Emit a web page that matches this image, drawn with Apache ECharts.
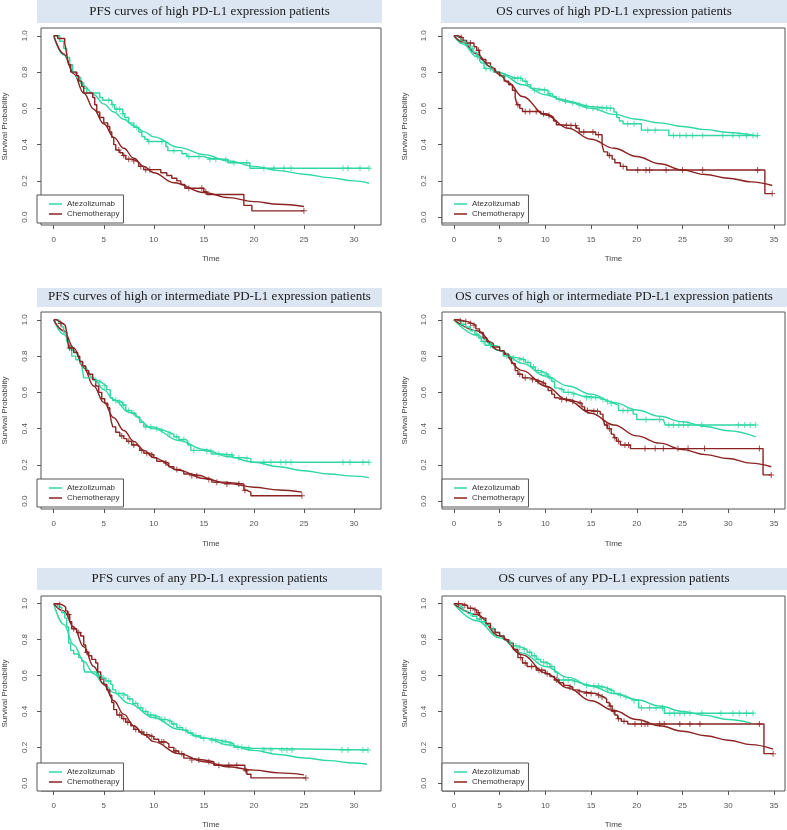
<!DOCTYPE html>
<html><head><meta charset="utf-8">
<script src="https://cdn.jsdelivr.net/npm/echarts@6/dist/echarts.min.js"></script>
<style>html,body{margin:0;padding:0;background:#fff}#c{width:787px;height:830px}</style>
</head><body><div id="c"></div>
<script>
// ---------- tick labels ----------
const xTicksPFS = [0, 5, 10, 15, 20, 25, 30];
const xTicksOS = [0, 5, 10, 15, 20, 25, 30, 35];
const yTicks = [0, 0.2, 0.4, 0.6, 0.8, 1.0];
const legendNames = ['Atezolizumab', 'Chemotherapy'];
const titles = [
  'PFS curves of high PD-L1 expression patients',
  'OS curves of high PD-L1 expression patients',
  'PFS curves of high or intermediate PD-L1 expression patients',
  'OS curves of high or intermediate PD-L1 expression patients',
  'PFS curves of any PD-L1 expression patients',
  'OS curves of any PD-L1 expression patients'
];

// ---------- Panel 1: PFS high ----------
const pfsHighAtezoKM = [[0,1],[0.6,0.97],[1.0,0.93],[1.3,0.88],[1.6,0.84],[1.9,0.80],[2.3,0.77],[2.7,0.74],[3.0,0.71],[3.3,0.685],[4.6,0.66],[4.9,0.645],[5.8,0.62],[6.1,0.595],[6.9,0.57],[7.1,0.55],[7.5,0.52],[8.0,0.495],[8.5,0.47],[8.8,0.445],[9.1,0.43],[9.4,0.417],[11.2,0.39],[11.4,0.367],[12.8,0.35],[13.3,0.335],[15.0,0.325],[15.5,0.318],[17.4,0.30],[19.6,0.27],[31.5,0.27]];
const pfsHighChemoKM = [[0,1],[0.4,0.985],[1.1,0.96],[1.2,0.93],[1.35,0.88],[1.5,0.84],[1.7,0.80],[2.3,0.78],[2.5,0.75],[2.8,0.72],[3.0,0.685],[3.9,0.66],[4.1,0.62],[4.3,0.58],[4.6,0.55],[5.0,0.52],[5.4,0.50],[5.6,0.47],[5.8,0.44],[6.0,0.40],[6.2,0.37],[6.6,0.355],[6.9,0.34],[7.2,0.32],[7.8,0.31],[8.3,0.30],[8.5,0.28],[9.0,0.262],[10.7,0.245],[11.3,0.23],[11.8,0.215],[12.3,0.20],[12.7,0.18],[13.1,0.16],[15.0,0.14],[15.3,0.125],[19.0,0.065],[19.8,0.035],[25.0,0.035]];
const pfsHighAtezoCens = [5.5,5.9,6.3,6.6,6.9,8.3,9.5,10.8,12.0,13.5,14.5,15.6,16.2,17.2,18.0,19.3,21.0,22.0,23.0,23.7,28.9,29.4,30.6,31.5];
const pfsHighChemoCens = [6.5,7.0,7.5,8.0,8.7,9.2,9.6,13.5,14.8,15.2,25.0];
const pfsHighAtezoFit = [[0,1],[1,0.895],[2,0.80],[3,0.725],[4,0.675],[5,0.625],[6,0.58],[7,0.54],[8,0.505],[9,0.472],[10,0.443],[12.5,0.385],[15,0.345],[17.5,0.31],[20,0.28],[22.5,0.257],[25,0.237],[27.5,0.218],[30,0.20],[31.5,0.187]];
const pfsHighChemoFit = [[0,1],[1,0.90],[2,0.79],[3,0.685],[4,0.595],[5,0.515],[6,0.44],[7,0.38],[8,0.325],[9,0.28],[10,0.245],[12,0.19],[15,0.136],[17.5,0.108],[20,0.086],[22.5,0.071],[25,0.059]];

// ---------- Panel 2: OS high ----------
const osHighAtezoKM = [[0,1],[0.3,0.99],[0.7,0.975],[1.0,0.965],[1.4,0.95],[1.8,0.93],[2.1,0.91],[2.5,0.885],[2.8,0.865],[3.0,0.85],[3.3,0.82],[4.3,0.80],[5.0,0.79],[5.5,0.78],[6.0,0.77],[6.5,0.765],[7.5,0.75],[8.0,0.73],[8.4,0.71],[8.7,0.70],[10.3,0.68],[10.8,0.665],[11.2,0.65],[11.8,0.64],[12.6,0.63],[13.4,0.62],[14.0,0.61],[14.8,0.60],[17.5,0.58],[17.8,0.55],[18.1,0.53],[18.5,0.515],[20.5,0.48],[23.5,0.45],[33.2,0.45]];
const osHighChemoKM = [[0,1],[0.5,0.99],[1.0,0.975],[1.4,0.96],[2.2,0.94],[2.5,0.92],[2.8,0.90],[3.0,0.87],[3.5,0.85],[4.0,0.82],[4.5,0.80],[5.0,0.78],[5.5,0.75],[6.0,0.73],[6.4,0.70],[6.7,0.66],[6.9,0.62],[7.2,0.60],[7.5,0.583],[9.5,0.57],[10.2,0.56],[10.6,0.55],[10.9,0.53],[11.2,0.51],[11.5,0.505],[13.4,0.49],[13.7,0.47],[15.5,0.455],[16.2,0.40],[16.4,0.36],[16.8,0.34],[17.3,0.32],[17.6,0.30],[18.2,0.28],[18.9,0.26],[34.0,0.13],[34.8,0.13]];
const osHighAtezoCens = [1.2,2.0,2.6,3.5,4.0,5.6,6.6,7.0,7.3,7.8,8.8,9.3,9.9,10.5,11.5,12.2,13.0,13.7,14.5,15.2,15.7,16.2,16.7,17.1,19.0,19.7,21.2,22.0,24.0,24.7,25.4,26.1,27.2,29.4,30.5,31.2,32.0,32.7,33.2];
const osHighChemoCens = [0.8,1.8,2.7,7.0,7.8,8.3,9.0,9.8,10.4,12.3,12.8,13.3,14.2,15.2,15.8,17.0,18.5,20.1,21.0,21.4,23.2,25.0,27.2,33.2,34.8];
const osHighAtezoFit = [[0,1],[1,0.955],[2.5,0.885],[4,0.83],[5,0.795],[7.5,0.73],[10,0.675],[12.5,0.635],[15,0.60],[17.5,0.567],[20,0.54],[22.5,0.52],[25,0.50],[27.5,0.483],[30,0.467],[33.2,0.447]];
const osHighChemoFit = [[0,1],[1,0.965],[2.5,0.90],[4,0.83],[5,0.785],[6,0.74],[7.5,0.665],[10,0.565],[12.5,0.49],[15,0.43],[17.5,0.38],[20,0.335],[22.5,0.295],[25,0.26],[27.5,0.235],[30,0.215],[32.5,0.195],[34.8,0.175]];

// ---------- Panel 3: PFS high or intermediate ----------
const pfsHiIntAtezoKM = [[0,1],[0.5,0.98],[0.8,0.96],[1.0,0.93],[1.3,0.88],[1.5,0.84],[1.8,0.80],[2.2,0.78],[2.6,0.76],[2.85,0.73],[3.0,0.68],[4.0,0.665],[4.5,0.655],[4.8,0.645],[5.0,0.635],[5.3,0.615],[5.65,0.57],[5.9,0.555],[6.4,0.545],[6.9,0.53],[7.2,0.50],[7.8,0.485],[8.2,0.465],[8.6,0.435],[9.0,0.41],[10.0,0.40],[10.5,0.39],[11.0,0.38],[11.5,0.37],[12.0,0.355],[12.5,0.34],[13.2,0.33],[13.4,0.31],[13.7,0.28],[15.2,0.275],[15.8,0.26],[16.8,0.255],[17.9,0.24],[19.0,0.235],[19.7,0.215],[31.5,0.215]];
const pfsHiIntChemoKM = [[0,1],[0.3,0.99],[0.6,0.98],[0.9,0.97],[1.15,0.96],[1.3,0.93],[1.4,0.88],[1.5,0.845],[2.0,0.82],[2.4,0.80],[2.6,0.77],[2.9,0.745],[3.2,0.72],[3.5,0.70],[3.9,0.67],[4.2,0.635],[4.5,0.60],[4.8,0.565],[5.1,0.54],[5.4,0.515],[5.6,0.49],[5.75,0.44],[5.9,0.41],[6.2,0.38],[6.6,0.36],[7.0,0.345],[7.3,0.33],[7.8,0.31],[8.3,0.30],[8.6,0.28],[9.0,0.265],[9.5,0.255],[10.0,0.24],[10.3,0.22],[11.0,0.21],[11.5,0.19],[12.0,0.175],[12.6,0.165],[13.0,0.15],[13.5,0.14],[14.8,0.13],[15.2,0.12],[15.8,0.105],[17.1,0.095],[19.0,0.06],[19.3,0.05],[19.7,0.03],[24.8,0.03]];
const pfsHiIntAtezoCens = [4.2,4.6,5.1,6.2,6.6,7.0,7.5,8.0,9.2,9.7,10.3,10.8,11.6,12.3,13.0,14.0,15.3,15.7,16.5,17.3,17.8,18.5,19.3,21.0,21.7,22.7,23.2,23.7,28.9,29.6,30.9,31.5];
const pfsHiIntChemoCens = [0.7,1.6,1.8,6.8,7.5,8.0,8.8,9.3,9.8,11.2,12.3,13.8,14.3,15.5,16.3,17.3,18.5,19.1,24.8];
const pfsHiIntAtezoFit = [[0,1],[1,0.92],[2,0.83],[3,0.745],[4,0.675],[5,0.615],[6,0.56],[7.5,0.49],[10,0.40],[12.5,0.335],[15,0.285],[17.5,0.245],[20,0.215],[22.5,0.19],[25,0.168],[27.5,0.15],[30,0.138],[31.5,0.13]];
const pfsHiIntChemoFit = [[0,1],[1,0.94],[2,0.845],[3,0.735],[4,0.635],[5,0.545],[6,0.46],[7,0.39],[8,0.33],[9,0.28],[10,0.24],[12.5,0.17],[15,0.125],[17.5,0.097],[20,0.077],[22.5,0.062],[24.8,0.05]];

// ---------- Panel 4: OS high or intermediate ----------
const osHiIntAtezoKM = [[0,1],[0.3,0.99],[0.8,0.975],[1.3,0.96],[1.8,0.94],[2.3,0.92],[2.7,0.90],[3.0,0.88],[3.4,0.86],[4.4,0.85],[5.0,0.83],[5.4,0.80],[6.0,0.79],[7.0,0.78],[7.8,0.765],[8.4,0.74],[8.9,0.72],[9.4,0.71],[9.9,0.70],[10.3,0.68],[10.7,0.66],[11.0,0.625],[11.4,0.615],[12.0,0.60],[12.8,0.59],[13.4,0.58],[14.0,0.57],[16.0,0.56],[16.5,0.55],[17.0,0.54],[17.5,0.53],[18.0,0.50],[19.6,0.48],[20.0,0.45],[22.9,0.44],[23.1,0.42],[33.0,0.42]];
const osHiIntChemoKM = [[0,1],[0.5,0.995],[1.0,0.99],[1.5,0.98],[2.0,0.97],[2.4,0.95],[2.8,0.93],[3.2,0.90],[3.6,0.88],[3.9,0.87],[4.3,0.85],[5.0,0.83],[5.5,0.81],[6.0,0.79],[6.3,0.76],[6.7,0.72],[7.0,0.70],[7.5,0.68],[8.3,0.67],[9.0,0.66],[9.5,0.65],[10.0,0.63],[10.3,0.61],[10.7,0.59],[11.0,0.57],[11.3,0.56],[12.7,0.55],[13.3,0.54],[14.0,0.52],[14.3,0.50],[15.0,0.495],[16.0,0.48],[16.3,0.45],[16.5,0.42],[16.8,0.40],[17.2,0.37],[17.5,0.35],[17.8,0.33],[18.2,0.31],[19.3,0.29],[33.8,0.145],[34.7,0.145]];
const osHiIntAtezoCens = [1.0,2.5,3.2,4.0,5.8,6.5,7.2,7.6,8.1,8.7,9.2,9.6,10.1,10.5,11.8,12.5,13.1,14.5,15.0,15.5,16.3,16.8,17.2,18.5,19.0,21.0,22.5,23.5,24.0,24.6,25.1,25.6,27.1,31.1,31.8,32.4,33.0];
const osHiIntChemoCens = [0.7,1.3,1.8,2.2,7.2,7.8,8.6,9.2,9.8,11.8,12.3,13.0,13.8,14.6,15.3,15.7,16.7,17.0,17.6,18.0,18.7,19.1,20.9,22.0,22.9,24.5,25.6,27.4,33.4,34.7];
const osHiIntAtezoFit = [[0,1],[2.5,0.915],[5,0.83],[7.5,0.76],[10,0.69],[12.5,0.635],[15,0.59],[17.5,0.545],[20,0.503],[22.5,0.468],[25,0.438],[27.5,0.412],[30,0.388],[33,0.355]];
const osHiIntChemoFit = [[0,1],[2.5,0.94],[5,0.83],[7.5,0.72],[10,0.635],[12.5,0.555],[15,0.485],[17.5,0.42],[20,0.36],[22.5,0.32],[25,0.285],[27.5,0.257],[30,0.235],[32.5,0.21],[34.7,0.19]];

// ---------- Panel 5: PFS any ----------
const pfsAnyAtezoKM = [[0,1],[0.4,0.98],[0.8,0.95],[1.1,0.92],[1.3,0.87],[1.5,0.78],[1.7,0.74],[2.0,0.72],[2.5,0.70],[2.8,0.68],[3.0,0.64],[3.1,0.62],[4.3,0.60],[4.8,0.585],[5.2,0.57],[5.7,0.55],[5.9,0.52],[6.2,0.50],[6.9,0.49],[7.4,0.47],[7.9,0.445],[8.4,0.42],[8.9,0.40],[9.4,0.38],[9.9,0.37],[10.6,0.355],[11.3,0.345],[11.8,0.33],[12.3,0.31],[12.9,0.295],[13.4,0.28],[13.9,0.265],[14.7,0.25],[15.5,0.24],[16.5,0.23],[17.5,0.22],[18.0,0.20],[19.3,0.195],[19.7,0.185],[31.4,0.185]];
const pfsAnyChemoKM = [[0,1],[0.5,0.995],[0.8,0.99],[1.0,0.98],[1.2,0.96],[1.4,0.94],[1.6,0.90],[1.8,0.86],[2.3,0.84],[2.7,0.82],[3.0,0.77],[3.2,0.73],[3.5,0.71],[3.8,0.69],[4.2,0.67],[4.4,0.62],[4.7,0.58],[5.0,0.55],[5.3,0.52],[5.6,0.49],[5.8,0.45],[6.0,0.41],[6.3,0.38],[6.8,0.36],[7.2,0.34],[7.7,0.32],[8.0,0.30],[8.5,0.285],[9.0,0.27],[9.5,0.26],[10.0,0.245],[10.5,0.23],[11.2,0.22],[11.5,0.20],[12.0,0.18],[12.5,0.165],[13.0,0.14],[13.5,0.13],[15.0,0.12],[16.0,0.10],[19.1,0.07],[19.3,0.05],[19.7,0.03],[25.2,0.03]];
const pfsAnyAtezoCens = [4.5,5.0,5.5,6.5,7.0,7.6,8.2,8.7,9.2,9.7,10.2,10.8,11.1,11.6,12.0,12.6,13.2,13.7,14.2,15.0,15.8,16.2,16.8,17.2,17.7,18.4,18.8,19.5,21.0,21.7,22.8,23.3,23.8,28.8,29.4,30.9,31.4];
const pfsAnyChemoCens = [0.6,1.5,2.0,2.5,3.3,6.6,7.0,7.4,8.2,8.8,9.3,9.8,10.8,11.0,12.2,12.8,13.8,14.5,15.5,16.5,17.5,18.3,19.2,25.2];
const pfsAnyAtezoFit = [[0,1],[1,0.885],[2,0.77],[3,0.68],[4,0.61],[5,0.555],[6,0.505],[7.5,0.445],[10,0.365],[12.5,0.30],[15,0.253],[17.5,0.213],[20,0.183],[22.5,0.16],[25,0.141],[27.5,0.126],[30,0.113],[31.3,0.106]];
const pfsAnyChemoFit = [[0,1],[1,0.96],[2,0.87],[3,0.76],[4,0.65],[5,0.55],[6,0.46],[7,0.385],[8,0.32],[9,0.272],[10,0.232],[12.5,0.165],[15,0.12],[17.5,0.092],[20,0.073],[22.5,0.058],[25,0.047]];

// ---------- Panel 6: OS any ----------
const osAnyAtezoKM = [[0,1],[0.3,0.99],[0.6,0.98],[1.0,0.96],[1.5,0.945],[2.0,0.93],[2.5,0.915],[3.0,0.90],[3.5,0.88],[4.0,0.86],[4.5,0.84],[5.0,0.82],[5.5,0.80],[6.0,0.78],[6.5,0.765],[7.0,0.755],[7.5,0.745],[8.0,0.73],[8.5,0.71],[9.0,0.69],[9.5,0.675],[10.0,0.665],[10.5,0.65],[11.0,0.62],[11.3,0.59],[11.5,0.575],[13.0,0.565],[13.5,0.555],[14.0,0.545],[15.0,0.54],[16.0,0.535],[16.5,0.525],[17.0,0.515],[17.5,0.50],[18.0,0.49],[18.5,0.48],[19.0,0.47],[19.5,0.46],[20.2,0.42],[23.0,0.39],[32.8,0.39]];
const osAnyChemoKM = [[0,1],[0.8,0.99],[1.5,0.975],[2.0,0.965],[2.5,0.95],[2.8,0.935],[3.0,0.92],[3.5,0.89],[4.0,0.86],[4.5,0.84],[5.0,0.82],[5.5,0.80],[6.0,0.78],[6.5,0.745],[7.0,0.70],[7.5,0.67],[8.0,0.65],[9.0,0.63],[10.0,0.61],[10.5,0.595],[11.0,0.575],[11.5,0.56],[12.0,0.545],[12.5,0.535],[13.0,0.52],[13.5,0.51],[14.0,0.50],[15.5,0.49],[16.0,0.48],[16.4,0.47],[16.7,0.45],[17.0,0.43],[17.3,0.40],[17.6,0.38],[17.9,0.36],[18.3,0.345],[19.0,0.33],[33.9,0.165],[34.9,0.165]];
const osAnyAtezoCens = [0.8,1.8,2.8,3.3,4.3,6.2,6.8,7.2,7.7,8.3,8.8,9.2,9.8,10.2,10.7,12.0,12.5,13.2,14.5,15.3,15.8,16.2,16.8,17.2,18.2,18.8,19.7,20.5,21.4,22.1,22.8,23.6,24.1,24.7,25.2,25.8,27.1,29.2,30.5,31.2,32.0,32.7];
const osAnyChemoCens = [0.5,1.2,1.8,2.3,2.7,7.3,7.8,8.5,9.3,9.6,10.2,11.2,12.7,13.7,14.5,15.0,15.8,16.2,17.1,17.5,18.0,18.6,19.8,20.5,20.9,21.2,22.5,23.0,24.7,25.8,26.9,33.4,34.9];
const osAnyAtezoFit = [[0,1],[2.5,0.905],[5,0.81],[7.5,0.725],[10,0.65],[12.5,0.59],[15,0.54],[17.5,0.50],[20,0.465],[22.5,0.43],[25,0.40],[27.5,0.378],[30,0.355],[32.5,0.335]];
const osAnyChemoFit = [[0,1],[2.5,0.94],[5,0.82],[7.5,0.715],[10,0.615],[12.5,0.53],[15,0.46],[17.5,0.405],[20,0.355],[22.5,0.32],[25,0.29],[27.5,0.265],[30,0.24],[32.5,0.215],[34.9,0.19]];

// ---------- assembly ----------
const GREEN = '#2fd8a3', RED = '#8b2323';
const SANS = '"Liberation Sans", Arial, sans-serif';
const SERIF = '"Liberation Serif", "Times New Roman", serif';
const PLUS = 'path://M0,2.5H6V3.5H0Z M2.5,0H3.5V6H2.5Z';

const panels = [
  {col:0,row:0,aKM:pfsHighAtezoKM,cKM:pfsHighChemoKM,aC:pfsHighAtezoCens,cC:pfsHighChemoCens,aF:pfsHighAtezoFit,cF:pfsHighChemoFit},
  {col:1,row:0,aKM:osHighAtezoKM,cKM:osHighChemoKM,aC:osHighAtezoCens,cC:osHighChemoCens,aF:osHighAtezoFit,cF:osHighChemoFit},
  {col:0,row:1,aKM:pfsHiIntAtezoKM,cKM:pfsHiIntChemoKM,aC:pfsHiIntAtezoCens,cC:pfsHiIntChemoCens,aF:pfsHiIntAtezoFit,cF:pfsHiIntChemoFit},
  {col:1,row:1,aKM:osHiIntAtezoKM,cKM:osHiIntChemoKM,aC:osHiIntAtezoCens,cC:osHiIntChemoCens,aF:osHiIntAtezoFit,cF:osHiIntChemoFit},
  {col:0,row:2,aKM:pfsAnyAtezoKM,cKM:pfsAnyChemoKM,aC:pfsAnyAtezoCens,cC:pfsAnyChemoCens,aF:pfsAnyAtezoFit,cF:pfsAnyChemoFit},
  {col:1,row:2,aKM:osAnyAtezoKM,cKM:osAnyChemoKM,aC:osAnyAtezoCens,cC:osAnyChemoCens,aF:osAnyAtezoFit,cF:osAnyChemoFit}
];
const COLS = [
  {left:37, width:344, tx:37, tw:345, xmin:-1.27, xmax:32.7, ticks:xTicksPFS, nameGap:32, yMargin:12},
  {left:442, width:343, tx:441, tw:346, xmin:-1.3, xmax:36.2, ticks:xTicksOS, nameGap:33, yMargin:14}
];
const ROWS = [
  {top:28, height:197, ty:0, th:23, tc:12, nameGap:30},
  {top:312, height:197, ty:288, th:19, tc:297, nameGap:31},
  {top:596, height:197, ty:568, th:22, tc:579, nameGap:30}
];

function survAt(km, t) {
  let s = km[0][1];
  for (const [ti, si] of km) { if (ti <= t) s = si; else break; }
  return s;
}

const option = {animation:false, grid:[], xAxis:[], yAxis:[], series:[], legend:[], graphic:[]};
panels.forEach((p, i) => {
  const c = COLS[p.col], r = ROWS[p.row];
  option.graphic.push({type:'rect', silent:true, shape:{x:c.tx, y:r.ty, width:c.tw, height:r.th}, style:{fill:'#dce6f2'}});
  option.graphic.push({type:'text', silent:true, x:c.tx + c.tw/2, y:r.tc,
    style:{text:titles[i], fontSize:13, fontFamily:SERIF, fill:'#1a1a1a', align:'center', verticalAlign:'middle'}});
  option.grid.push({left:c.left, top:r.top, width:c.width, height:r.height, show:true,
    borderColor:'#555', borderWidth:1, backgroundColor:'transparent'});
  option.xAxis.push({gridIndex:i, type:'value', min:c.xmin, max:c.xmax, position:'bottom',
    name:'Time', nameLocation:'middle', nameGap:r.nameGap, nameMoveOverlap:false,
    nameTextStyle:{fontSize:8, color:'#444', fontFamily:SANS},
    axisLine:{show:false, onZero:false}, splitLine:{show:false},
    axisTick:{show:true, length:4, customValues:c.ticks, lineStyle:{color:'#555'}},
    axisLabel:{customValues:c.ticks, margin:11, fontSize:8, color:'#555', fontFamily:SANS}});
  option.yAxis.push({gridIndex:i, type:'value', min:-0.043, max:1.043, position:'left',
    name:'Survival Probability', nameLocation:'middle', nameGap:c.nameGap, nameRotate:90, nameMoveOverlap:false,
    nameTextStyle:{fontSize:8, color:'#444', fontFamily:SANS},
    axisLine:{show:false, onZero:false}, splitLine:{show:false},
    axisTick:{show:true, length:4, customValues:yTicks, lineStyle:{color:'#555'}},
    axisLabel:{customValues:yTicks, rotate:90, margin:c.yMargin, fontSize:8, color:'#555', fontFamily:SANS,
      formatter:v => Number(v).toFixed(1)}});
  option.legend.push({left:c.left, top:r.top + r.height - 30, orient:'vertical',
    data:legendNames, icon:'rect', itemWidth:13, itemHeight:1.5, itemGap:2,
    padding:[5, 4, 5, 12], borderColor:'#555', borderWidth:1, backgroundColor:'#fff',
    selectedMode:false, textStyle:{fontSize:8, color:'#333', fontFamily:SANS}});
  const base = {xAxisIndex:i, yAxisIndex:i, silent:true};
  const line = (name, data, col, extra) => Object.assign({}, base, {
    type:'line', name, data, showSymbol:false, symbol:'none',
    itemStyle:{color:col}, lineStyle:{color:col, width:1.4}}, extra);
  option.series.push(line('Atezolizumab', p.aKM, GREEN, {step:'end', z:3}));
  option.series.push(line('Chemotherapy', p.cKM, RED, {step:'end', z:3}));
  option.series.push(line('Atezolizumab fit', p.aF, GREEN, {smooth:0.4, smoothMonotone:'x', z:2}));
  option.series.push(line('Chemotherapy fit', p.cF, RED, {smooth:0.4, smoothMonotone:'x', z:2}));
  option.series.push(Object.assign({}, base, {type:'scatter', name:'Atezolizumab censored',
    data:p.aC.map(t => [t, survAt(p.aKM, t)]), symbol:PLUS, symbolSize:6, itemStyle:{color:GREEN}, z:4}));
  option.series.push(Object.assign({}, base, {type:'scatter', name:'Chemotherapy censored',
    data:p.cC.map(t => [t, survAt(p.cKM, t)]), symbol:PLUS, symbolSize:6, itemStyle:{color:RED}, z:4}));
});

const chart = echarts.init(document.getElementById('c'), null, {renderer:'canvas'});
chart.setOption(option);
</script>
</body></html>
